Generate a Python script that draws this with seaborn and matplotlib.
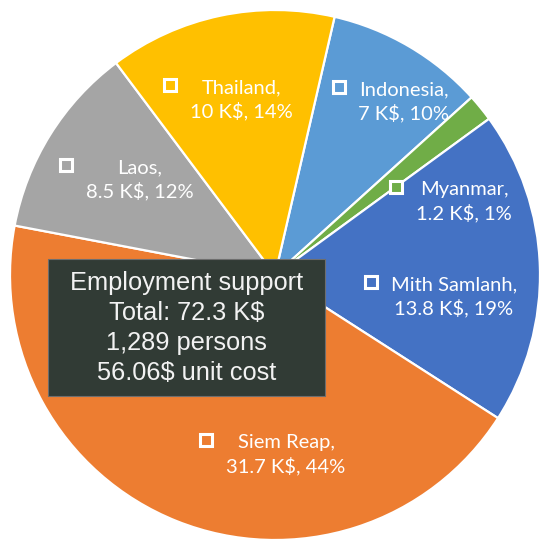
import matplotlib
matplotlib.use("Agg")
import matplotlib.pyplot as plt
from matplotlib.patches import Rectangle
import seaborn as sns

# slices in clockwise order, starting just right of 12 o'clock
countries = ["Indonesia", "Myanmar", "Mith Samlanh", "Siem Reap", "Laos", "Thailand"]
amounts = [7.0, 1.2, 13.8, 31.7, 8.5, 10.0]
amount_labels = ["7", "1.2", "13.8", "31.7", "8.5", "10"]
pct_labels = ["10%", "1%", "19%", "44%", "12%", "14%"]
colors = ["#5B9BD5", "#70AD47", "#4472C4", "#ED7D31", "#A5A5A5", "#FFC000"]

summary_lines = ["Employment support", "Total: 72.3 K$", "1,289 persons", "56.06$ unit cost"]

W = 541
# label block centres, pixels from top-left (Excel "best fit" spots)
label_pos = [(404, 102), (464, 202), (454, 297), (286, 455), (140, 180), (241, 100)]

sns.set_theme(style="white")
plt.rcParams["font.family"] = ["Lato", "DejaVu Sans"]

fig = plt.figure(figsize=(W / 100, W / 100), dpi=100)
ax = fig.add_axes([0, 0, 1, 1])

ax.pie(amounts, colors=colors, startangle=77, counterclock=False,
       center=(275, W - 275), radius=265,
       wedgeprops=dict(edgecolor="white", linewidth=1.6))
ax.set_xlim(0, W)
ax.set_ylim(0, W)
ax.set_aspect("equal")
ax.axis("off")

# data labels: name on line 1, amount + share on line 2
texts = []
for name, amt, pct, (x, y) in zip(countries, amount_labels, pct_labels, label_pos):
    s = f"{name},\n{amt} K\\$, {pct}"
    t = ax.text(x, W - y, s, ha="center", va="center", color="white",
                fontsize=14.5, linespacing=1.35)
    texts.append(t)

fig.canvas.draw()
r = fig.canvas.get_renderer()
for t, c, (x, y) in zip(texts, colors, label_pos):
    bb = t.get_window_extent(renderer=r)
    ax.plot(bb.x0 - 20, W - y + 15, marker="s", markersize=8.5,
            markerfacecolor=c, markeredgecolor="white", markeredgewidth=2.2)

# summary box
ax.add_patch(Rectangle((48, W - 396), 277, 137, facecolor="#313b35",
                       edgecolor="#6e6e6e", linewidth=0.8, zorder=5))
ax.text(186.5, W - 328, "\n".join(l.replace("$", "\\$") for l in summary_lines),
        ha="center", va="center", color="#f2f2f2", fontsize=18.3,
        family=["Liberation Sans", "DejaVu Sans"], linespacing=1.33, zorder=6)

fig.savefig("out.png", dpi=100)
plt.close()
